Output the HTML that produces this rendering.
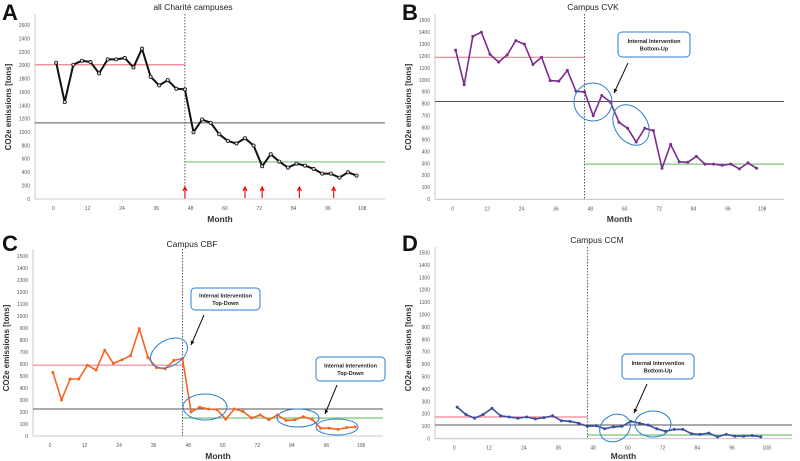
<!DOCTYPE html>
<html><head><meta charset="utf-8"><style>
html,body{margin:0;padding:0;background:#fff;}
svg{display:block;font-family:"Liberation Sans",sans-serif;}
</style></head><body>
<svg id="chart" width="800" height="461" viewBox="0 0 800 461" xmlns="http://www.w3.org/2000/svg"></svg>
<script>
const months = [1,4,7,10,13,16,19,22,25,28,31,34,37,40,43,46,49,52,55,58,61,64,67,70,73,76,79,82,85,88,91,94,97,100,103,106];
const valuesA = [2040,1450,2010,2070,2050,1880,2090,2090,2110,1970,2250,1830,1700,1780,1650,1640,1000,1190,1140,970,870,830,910,800,490,670,560,470,530,500,450,380,380,320,400,350];
const valuesB = [1250,960,1365,1400,1215,1150,1210,1330,1300,1130,1190,995,990,1080,905,900,700,870,815,645,595,480,595,575,260,460,315,310,360,295,295,285,295,255,305,260];
const valuesC = [530,300,475,475,590,550,715,605,635,670,895,655,570,560,630,645,200,240,225,220,140,225,205,150,175,135,175,130,135,160,140,65,65,55,70,75];
const valuesD = [255,195,165,195,245,185,175,165,175,160,170,185,145,140,125,100,105,80,95,100,140,125,110,80,60,75,75,40,35,45,15,35,20,20,25,15];
const baselinePre = [2010,1190,590,175];
const baselineAll = [1140,820,225,110];
const baselinePost = [555,295,150,30];
const interventionMonth = 46;
const xTickLabels = [0,12,24,36,48,60,72,84,96,108];
const arrowMonthsA = [46,67,73,86,98];
const panelTitles = ["all Charité campuses","Campus CVK","Campus CBF","Campus CCM"];

const NS="http://www.w3.org/2000/svg";
const svg=document.getElementById('chart');
function mk(tag,attrs,parent){const e=document.createElementNS(NS,tag);for(const k in attrs)e.setAttribute(k,attrs[k]);(parent||svg).appendChild(e);return e;}

const panels=[
 {L:35,R:385,T:14,B:199,x0:53.3,x108:362.3,y0:199,yTopPx:25.3,yMax:2600,step:200,color:"#111",letter:"A",lx:2,ly:20,tx:193,ty:10,ytx:8,yty:107,mty:223,data:valuesA,hollow:true},
 {L:435,R:784,T:14,B:199.3,x0:452.7,x108:762.3,y0:199.3,yTopPx:20.3,yMax:1500,step:100,color:"#7b2d8e",letter:"B",lx:402,ly:20,tx:593,ty:10,ytx:408,yty:107,mty:223,data:valuesB},
 {L:33,R:383,T:249,B:436,x0:50,x108:361,y0:436,yTopPx:256,yMax:1500,step:100,color:"#f26522",letter:"C",lx:2,ly:251,tx:192,ty:247,ytx:6,yty:348,mty:460,data:valuesC},
 {L:435,R:792,T:247,B:438.7,x0:454.3,x108:766.7,y0:438.7,yTopPx:252.7,yMax:1500,step:100,color:"#3a4fa0",letter:"D",lx:402,ly:251,tx:597,ty:243,ytx:408,yty:348,mty:460,data:valuesD}
];

panels.forEach((p,i)=>{
 const g=mk('g',{});
 
 
 const xs=m=>p.x0+(p.x108-p.x0)*m/108;
 const ys=v=>p.y0-(p.y0-p.yTopPx)*v/p.yMax;
 const letter=mk('text',{x:p.lx,y:p.ly,'font-size':22,'font-weight':'bold',fill:'#111'},g);letter.textContent=p.letter;
 
 const t=mk('text',{x:p.tx,y:p.ty,'font-size':8.5,'text-anchor':'middle',fill:'#222'},g);t.textContent=panelTitles[i];
 
 // axes
 const ax=mk('path',{d:`M${p.L},${p.T}V${p.B}H${p.R}`,stroke:'#bbb','stroke-width':0.8,fill:'none'},g);
 
 for(let v=0;v<=p.yMax;v+=p.step){
  const yt=mk('text',{x:p.L-5,y:ys(v)+1.8,'font-size':5,'text-anchor':'end',fill:'#555'},g);yt.textContent=v;
  
 }
 xTickLabels.forEach(m=>{
  const xt=mk('text',{x:xs(m),y:p.B+11,'font-size':5,'text-anchor':'middle',fill:'#555'},g);xt.textContent=m;
  
 });
 const mt=mk('text',{x:(p.L+p.R)/2+10,y:p.mty-1,'font-size':8.5,'font-weight':'bold','text-anchor':'middle',fill:'#333'},g);mt.textContent='Month';
 
 const yl=mk('text',{x:0,y:0,'font-size':8,'font-weight':'bold','text-anchor':'middle',fill:'#333',transform:`translate(${p.ytx+3},${p.yty}) rotate(-90)`},g);yl.textContent='CO2e emissions [tons]';
 
 const xi=xs(interventionMonth);
 const r1=mk('line',{x1:p.L,x2:xi,y1:ys(baselinePre[i]),y2:ys(baselinePre[i]),stroke:'#f08090','stroke-width':1.2},g);
 
 const r2=mk('line',{x1:p.L,x2:p.R,y1:ys(baselineAll[i]),y2:ys(baselineAll[i]),stroke:'#555','stroke-width':1},g);
 
 const r3=mk('line',{x1:xi,x2:p.R,y1:ys(baselinePost[i]),y2:ys(baselinePost[i]),stroke:'#7cc47c','stroke-width':1.2},g);
 
 const dl=mk('line',{x1:xi,x2:xi,y1:p.T,y2:p.B,stroke:'#333','stroke-width':0.8,'stroke-dasharray':'1.5,1.5'},g);
 
 const pts=months.map((m,k)=>xs(m).toFixed(1)+','+ys(p.data[k]).toFixed(1)).join(' ');
 const pl=mk('polyline',{points:pts,fill:'none',stroke:p.color,'stroke-width':p.hollow?2:1.6,'stroke-linejoin':'round'},g);
 
 months.forEach((m,k)=>{
  const c=mk('circle',{cx:xs(m),cy:ys(p.data[k]),r:p.hollow?1.6:1.5,fill:p.hollow?'#ddd':p.color,stroke:p.color,'stroke-width':p.hollow?0.8:0},g);
  
 });
 if(i===0){
  arrowMonthsA.forEach(m=>{
   const a=mk('path',{d:`M${xs(m)},${p.B-1}V${p.B-11}M${xs(m)-2},${p.B-8}L${xs(m)},${p.B-12}L${xs(m)+2},${p.B-8}`,stroke:'#e00','stroke-width':1.1,fill:'none'},g);
   
  });
 }
});

function callout(x,y,w,h,l1,l2,ax1,ay1,ax2,ay2){
 const g=mk('g',{});
 
 
 mk('rect',{x:x,y:y,width:w,height:h,rx:4,fill:'#fff',stroke:'#2a7fd0','stroke-width':1},g);
 const a=mk('text',{x:x+w/2,y:y+h/2-1.5,'font-size':5.5,'font-weight':'bold','text-anchor':'middle',fill:'#222'},g);a.textContent=l1;
 const b=mk('text',{x:x+w/2,y:y+h/2+6,'font-size':5.5,'font-weight':'bold','text-anchor':'middle',fill:'#222'},g);b.textContent=l2;
 mk('line',{x1:ax1,y1:ay1,x2:ax2,y2:ay2,stroke:'#111','stroke-width':1},g);
 const ang=Math.atan2(ay2-ay1,ax2-ax1);
 const hx=ax2-4*Math.cos(ang),hy=ay2-4*Math.sin(ang);
 mk('path',{d:`M${ax2},${ay2}L${hx-2*Math.sin(ang)},${hy+2*Math.cos(ang)}L${hx+2*Math.sin(ang)},${hy-2*Math.cos(ang)}Z`,fill:'#111'},g);
}
function ell(cx,cy,rx,ry,rot){
 const e=mk('ellipse',{cx:cx,cy:cy,rx:rx,ry:ry,fill:'none',stroke:'#2a7fd0','stroke-width':1,transform:`rotate(${rot},${cx},${cy})`});
 
}
callout(618,32,72,25,'Internal Intervention','Bottom-Up',628,63,614,93);
ell(593,102,19,19,0);ell(631,125,16,22,-35);
callout(191,288,69,22,'Internal Intervention','Top-Down',204,315,191,345);
callout(316,357,69,24,'Internal Intervention','Top-Down',337,385,325,414);
ell(169,353,20,13,-30);ell(205,407,22,13,0);ell(298,418,21,9,0);ell(337,427,21,8,0);
callout(622,354,72,25,'Internal Intervention','Bottom-Up',647,384,634,413);
ell(615,428,16,13,-30);ell(653,424,18,13,0);
</script>
</body></html>
